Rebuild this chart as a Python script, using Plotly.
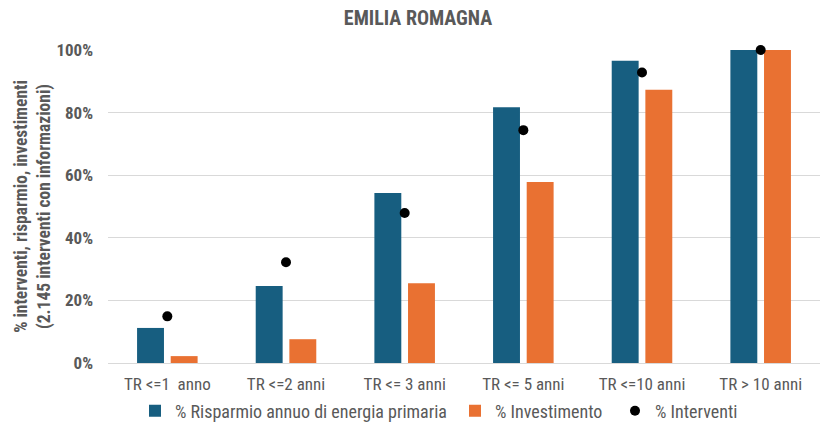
import plotly.graph_objects as go

categories = ["TR <=1  anno", "TR <=2 anni", "TR <= 3 anni", "TR <= 5 anni", "TR <=10 anni", "TR > 10 anni"]
risparmio = [0.112, 0.246, 0.543, 0.817, 0.966, 1.0]
investimento = [0.022, 0.076, 0.255, 0.578, 0.873, 1.0]
interventi = [0.149, 0.322, 0.479, 0.744, 0.928, 1.0]
y_tickvals = [0, 0.2, 0.4, 0.6, 0.8, 1.0]
y_ticklabels = ["0%", "20%", "40%", "60%", "80%", "100%"]

FONT = "Liberation Sans Narrow, Arial Narrow, Roboto Condensed, sans-serif"
GRAY = "#595959"

fig = go.Figure()
fig.add_trace(go.Bar(name="% Risparmio annuo di energia primaria", x=categories, y=risparmio,
                     marker=dict(color="#175e80", line=dict(width=0)), legend="legend"))
fig.add_trace(go.Bar(name="% Investimento", x=categories, y=investimento,
                     marker=dict(color="#e97132", line=dict(width=0)), legend="legend2"))
fig.add_trace(go.Scatter(name="% Interventi", x=categories, y=interventi, mode="markers",
                         marker=dict(color="black", size=10), cliponaxis=False, legend="legend3"))

def leg(xpx):
    return dict(orientation="h", xref="container", x=xpx/822, xanchor="left",
                yref="container", y=11/422, yanchor="middle",
                font=dict(size=18, color=GRAY, family=FONT), itemwidth=30,
                bgcolor="rgba(0,0,0,0)")

fig.update_layout(
    width=822, height=422,
    margin=dict(l=108, r=2, t=50, b=59, autoexpand=False),
    paper_bgcolor="white", plot_bgcolor="white",
    barmode="group", bargap=0.433, bargroupgap=0.2,
    font=dict(family=FONT, color=GRAY, size=14),
    title=dict(text="<b>EMILIA ROMAGNA</b>", x=418/822, xanchor="center", xref="container",
               y=1 - 18/422, yanchor="middle",
               font=dict(size=20, color=GRAY, family=FONT)),
    legend=leg(135), legend2=leg(455), legend3=leg(615),
    showlegend=True,
)
fig.update_xaxes(showgrid=False, showline=True, linecolor="#d9d9d9", linewidth=1,
                 ticks="", tickfont=dict(size=17, color=GRAY, family=FONT),
                 ticklabelstandoff=6, range=[-0.5, 5.5])
fig.update_yaxes(range=[0, 1], tickvals=y_tickvals,
                 ticktext=["<b>" + t + "</b>" for t in y_ticklabels],
                 showgrid=True, gridcolor="#d9d9d9", gridwidth=1, zeroline=False,
                 tickfont=dict(size=17, color=GRAY, family=FONT), ticklabelstandoff=14,
                 title=dict(text="<b>% interventi, risparmio, investimenti<br>(2.145 interventi con informazioni)</b>",
                            font=dict(size=17.5, color=GRAY, family=FONT), standoff=1))

fig.write_html("out.html", config={"displayModeBar": False},
               post_script="document.body.style.margin='0px';")
